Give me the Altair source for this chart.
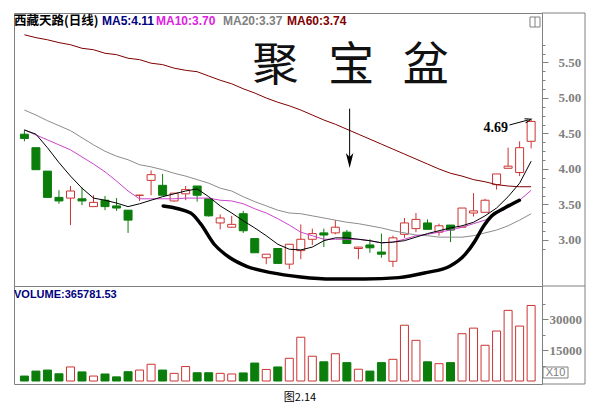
import altair as alt
import pandas as pd

# ---------------- data ----------------
idx = list(range(1, 46))
open_ = [4.49, 4.30, 3.97, 3.60, 3.59, 3.58, 3.47, 3.56, 3.48, 3.42,
         3.63, 3.84, 3.77, 3.55, 3.65, 3.76, 3.58, 3.24, 3.18, 3.37,
         3.02, 2.75, 2.88, 2.66, 2.85, 3.01, 3.10, 3.10, 3.11, 2.88,
         2.93, 2.83, 2.70, 3.08, 3.16, 3.24, 3.11, 3.21, 3.18, 3.38,
         3.39, 3.78, 4.01, 3.95, 4.39]
close = [4.43, 3.99, 3.60, 3.55, 3.69, 3.55, 3.53, 3.47, 3.45, 3.28,
         3.63, 3.92, 3.63, 3.66, 3.71, 3.63, 3.34, 3.31, 3.22, 3.13,
         2.82, 2.80, 2.67, 2.94, 3.01, 3.09, 3.07, 3.18, 2.95, 2.90,
         2.89, 2.80, 3.03, 3.24, 3.29, 3.15, 3.20, 3.14, 3.45, 3.41,
         3.56, 3.93, 4.04, 4.30, 4.67]
high = [4.55, 4.30, 3.97, 3.70, 3.76, 3.74, 3.63, 3.62, 3.59, 3.42,
        3.63, 3.98, 3.93, 3.66, 3.76, 3.76, 3.58, 3.36, 3.34, 3.41,
        3.02, 2.80, 2.88, 2.94, 3.22, 3.16, 3.16, 3.28, 3.14, 2.90,
        3.01, 3.09, 3.06, 3.31, 3.38, 3.29, 3.23, 3.21, 3.45, 3.66,
        3.58, 3.93, 4.30, 4.39, 4.69]
low = [4.39, 3.99, 3.60, 3.51, 3.21, 3.49, 3.47, 3.42, 3.41, 3.10,
       3.55, 3.63, 3.63, 3.54, 3.56, 3.54, 3.33, 3.15, 3.17, 3.10,
       2.82, 2.66, 2.67, 2.59, 2.73, 2.93, 2.90, 3.08, 2.95, 2.73,
       2.82, 2.75, 2.62, 3.03, 3.11, 3.15, 3.06, 2.97, 3.18, 3.33,
       3.39, 3.71, 4.01, 3.90, 4.29]
volume = [2400, 4800, 5300, 3500, 6800, 4400, 2400, 3400, 2000, 4500,
          5300, 8100, 5300, 3700, 7000, 4000, 4000, 3700, 3400, 3900,
          8700, 5600, 6800, 11000, 21200, 12000, 9300, 13200, 8900, 5700,
          4800, 8900, 10500, 27000, 19700, 9300, 8400, 8900, 22900, 25600,
          17300, 24200, 34200, 26600, 36578]
ma5 = [4.55, 4.49, 4.30, 4.09, 3.90, 3.73, 3.59, 3.56, 3.52, 3.47,
       3.51, 3.56, 3.61, 3.65, 3.69, 3.72, 3.61, 3.48, 3.38, 3.27,
       3.17, 3.06, 2.94, 2.87, 2.86, 2.90, 2.99, 3.03, 3.03, 3.01,
       2.99, 2.96, 2.97, 2.99, 3.04, 3.09, 3.13, 3.17, 3.20, 3.25,
       3.34, 3.45, 3.61, 3.80, 4.11]
ma10 = [4.55, 4.48, 4.41, 4.34, 4.27, 4.17, 4.07, 3.96, 3.83, 3.69,
        3.58, 3.58, 3.58, 3.58, 3.59, 3.59, 3.59, 3.56, 3.55, 3.51,
        3.44, 3.38, 3.30, 3.21, 3.11, 3.06, 3.01, 3.01, 3.01, 3.01,
        2.99, 2.96, 2.97, 3.01, 3.06, 3.08, 3.11, 3.14, 3.18, 3.23,
        3.28, 3.37, 3.46, 3.56, 3.70]
ma20 = [4.83, 4.76, 4.68, 4.61, 4.54, 4.44, 4.34, 4.25, 4.18, 4.13,
        4.06, 4.03, 3.99, 3.94, 3.90, 3.85, 3.80, 3.73, 3.69, 3.61,
        3.54, 3.48, 3.42, 3.38, 3.37, 3.34, 3.31, 3.28, 3.25, 3.23,
        3.20, 3.17, 3.13, 3.10, 3.07, 3.06, 3.04, 3.04, 3.04, 3.06,
        3.10, 3.14, 3.20, 3.28, 3.37]
ma60 = [5.89, 5.85, 5.82, 5.78, 5.75, 5.70, 5.68, 5.63, 5.61, 5.56,
        5.54, 5.49, 5.47, 5.42, 5.39, 5.37, 5.31, 5.25, 5.20, 5.13,
        5.07, 5.00, 4.94, 4.89, 4.83, 4.76, 4.69, 4.63, 4.56, 4.49,
        4.42, 4.35, 4.28, 4.21, 4.14, 4.07, 4.00, 3.94, 3.90, 3.85,
        3.82, 3.78, 3.76, 3.75, 3.75]
ma_names = ["MA60", "MA20", "MA10", "MA5"]
ma_colors = ["#800000", "#8c8c8c", "#cc44cc", "#000000"]

# hand-drawn "bowl" annotation (candle index, price)
bowl_i = [13.05, 15.44, 16.29, 17.48, 18.85, 20.29, 22.42, 24.98, 27.71, 30.52,
          33.50, 35.88, 37.93, 39.29, 40.14, 40.74, 41.59, 42.70, 43.98]
bowl_p = [3.48, 3.38, 3.23, 2.94, 2.75, 2.63, 2.54, 2.48, 2.45, 2.45,
          2.47, 2.54, 2.63, 2.80, 2.99, 3.16, 3.34, 3.45, 3.56]

price_labels = [3.0, 3.5, 4.0, 4.5, 5.0, 5.5]
price_ticks = [2.875, 3.0, 3.125, 3.25, 3.375, 3.5, 3.625, 3.75, 3.875, 4.0,
               4.125, 4.25, 4.375, 4.5, 4.625, 4.75, 4.875, 5.0, 5.125, 5.25,
               5.375, 5.5, 5.625, 5.75]
vol_ticks = [7500, 15000, 22500, 30000, 37500]

title_text = "西藏天路(日线)"
legend_texts = ["MA5:4.11", "MA10:3.70", "MA20:3.37", "MA60:3.74"]
legend_colors = ["#000080", "#e020e0", "#808080", "#800000"]
volume_text = "VOLUME:365781.53"
big_chars = ["聚", "宝", "盆"]
big_char_i = [22.81, 29.37, 35.84]
peak_text = "4.69"
caption = "图2.14"

# ---------------- styling / layout ----------------
RED = "#cc3333"
GREEN = "#0b7d0b"
GRAY = "#808080"
W, HP, HV = 528, 273, 98

candles = pd.DataFrame({"i": idx, "open": open_, "close": close,
                        "high": high, "low": low, "vol": volume})
candles["dir"] = ["up" if c >= o else "down" for o, c in zip(open_, close)]

xscale = alt.Scale(domain=[0.53, 45.51], nice=False, zero=False)
pscale = alt.Scale(domain=[2.352, 6.197], nice=False, zero=False)
vscale = alt.Scale(domain=[-1450, 46000], nice=False, zero=False)
stroke_enc = alt.Stroke("dir:N", scale=alt.Scale(domain=["up", "down"], range=[RED, GREEN]), legend=None)
fill_enc = alt.Fill("dir:N", scale=alt.Scale(domain=["up", "down"], range=["#ffffff", GREEN]), legend=None)
X = alt.X("i:Q", scale=xscale, axis=None)

major_p = "datum.value * 2 == round(datum.value * 2)"
price_axis = alt.Axis(
    orient="right", values=price_ticks, title=None, grid=False, domain=False,
    labelExpr=f"({major_p}) ? format(datum.value, '.2f') : ''",
    tickSize={"condition": {"test": major_p, "value": 6}, "value": 3},
    tickColor=GRAY, labelColor=GRAY, labelFont="Liberation Serif",
    labelFontWeight="bold", labelFontSize=13, labelPadding=10, labelOverlap=False,
)
major_v = "datum.value % 15000 == 0"
vol_axis = alt.Axis(
    orient="right", values=vol_ticks, title=None, grid=False, domain=False,
    labelExpr=f"({major_v}) ? format(datum.value, 'd') : ''",
    tickSize={"condition": {"test": major_v, "value": 6}, "value": 3},
    tickColor=GRAY, labelColor=GRAY, labelFont="Liberation Serif",
    labelFontWeight="bold", labelFontSize=13, labelPadding=1, labelOverlap=False,
)


def PY(field):
    return alt.Y(field, scale=pscale, axis=price_axis)


one = pd.DataFrame({"a": [0]})


def txt(text, x, y, **kw):
    return alt.Chart(one).mark_text(text=text, **kw).encode(x=alt.value(x), y=alt.value(y))


def rule(**enc):
    return alt.Chart(one).mark_rule(color=GRAY, strokeWidth=1).encode(**enc)


# ---------------- price panel ----------------
wick = alt.Chart(candles).mark_rule(strokeWidth=1).encode(
    x=X, y=PY("low:Q"), y2="high:Q", stroke=stroke_enc)
body = alt.Chart(candles).mark_bar(size=8, strokeWidth=1).encode(
    x=X, y=PY("open:Q"), y2="close:Q", fill=fill_enc, stroke=stroke_enc)

ma_df = pd.concat([pd.DataFrame({"i": idx, "v": vals, "s": name})
                   for name, vals in zip(ma_names, [ma60, ma20, ma10, ma5])])
ma_lines = alt.Chart(ma_df).mark_line(strokeWidth=1).encode(
    x=X, y=PY("v:Q"),
    color=alt.Color("s:N", scale=alt.Scale(domain=ma_names, range=ma_colors), legend=None))

bowl = alt.Chart(pd.DataFrame({"i": bowl_i, "p": bowl_p})).mark_line(
    strokeWidth=3.5, color="black", interpolate="monotone", strokeCap="round").encode(
    x=X, y=PY("p:Q"))

arrow_df = pd.DataFrame({"i": [29.24], "p1": [4.85], "p2": [4.12]})
arrow = alt.Chart(arrow_df).mark_rule(color="black", strokeWidth=1).encode(
    x=X, y=PY("p1:Q"), y2="p2:Q")
arrow_head = alt.Chart(arrow_df).mark_point(
    shape="M-0.5,-1L0,1L0.5,-1L0,-0.45Z", filled=True, size=225, color="black", opacity=1).encode(
    x=X, y=PY("p2:Q"))

big_df = pd.DataFrame({"i": big_char_i, "p": [5.45] * 3, "t": big_chars})
big_text = alt.Chart(big_df).mark_text(
    font="Noto Sans CJK SC", fontSize=46, color="#111111").encode(
    x=X, y=PY("p:Q"), text="t:N")

peak_df = pd.DataFrame({"i": [41.93], "p": [4.58], "t": [peak_text]})
peak_lbl = alt.Chart(peak_df).mark_text(
    font="Liberation Serif", fontWeight="bold", fontSize=14, color="black").encode(
    x=X, y=PY("p:Q"), text="t:N")
parrow_df = pd.DataFrame({"i1": [43.12], "p1": [4.62], "i2": [44.74], "p2": [4.69]})
peak_arrow = alt.Chart(parrow_df).mark_rule(color="black", strokeWidth=1).encode(
    x=alt.X("i1:Q", scale=xscale, axis=None), x2="i2:Q",
    y=PY("p1:Q"), y2="p2:Q")
peak_head = alt.Chart(parrow_df).mark_point(
    shape="M-1,-0.7L1,0L-1,0.7", filled=False, size=40, color="black", strokeWidth=1,
    angle=345, opacity=1).encode(
    x=alt.X("i2:Q", scale=xscale, axis=None), y=PY("p2:Q"))

title_layers = [txt(title_text, 0, 8, align="left", baseline="middle", font="Noto Sans CJK SC",
                    fontWeight="bold", fontSize=12.5, color="black")]
for t, c, xx in zip(legend_texts, legend_colors, [88, 142, 209, 273]):
    title_layers.append(txt(t, xx, 8, align="left", baseline="middle", font="Liberation Sans",
                            fontWeight="bold", fontSize=12, color=c))

icon = alt.Chart(one).mark_point(
    shape="M-1,-1H1V1H-1Z M0,-1V1", filled=False, size=100, color=GRAY, strokeWidth=1, opacity=1).encode(
    x=alt.value(521), y=alt.value(9))

frame_p = [
    rule(x=alt.value(571), y=alt.value(0), y2=alt.value(HP)),
    rule(x=alt.value(W), x2=alt.value(571), y=alt.value(0)),
    rule(x=alt.value(W), x2=alt.value(571), y=alt.value(HP)),
]

price = alt.layer(
    wick, body, ma_lines, bowl, arrow, arrow_head, big_text,
    peak_lbl, peak_arrow, peak_head, *title_layers, icon, *frame_p
).properties(width=W, height=HP)

# ---------------- volume panel ----------------
vol_bars = alt.Chart(candles).mark_bar(size=8, strokeWidth=1).encode(
    x=X, y=alt.Y("vol:Q", scale=vscale, axis=vol_axis), y2=alt.datum(0),
    fill=fill_enc, stroke=stroke_enc)

vol_label = txt(volume_text, 0, 9, align="left", baseline="middle", font="Liberation Sans",
                fontWeight="bold", fontSize=11, color="#000080")
x10_box = alt.Chart(one).mark_rect(fill="white", stroke=GRAY, strokeWidth=1).encode(
    x=alt.value(529), x2=alt.value(554), y=alt.value(81), y2=alt.value(92))
x10_txt = txt("X10", 541.5, 87, align="center", baseline="middle", font="Liberation Sans",
              fontSize=11, color=GRAY)
cap = txt(caption, 286, 112, align="center", baseline="middle", font="Noto Sans CJK SC",
          fontSize=11, color="black")
frame_v = [
    rule(x=alt.value(571), y=alt.value(0), y2=alt.value(HV)),
    rule(x=alt.value(W), x2=alt.value(571), y=alt.value(HV)),
]

vol = alt.layer(vol_bars, vol_label, x10_box, x10_txt, cap, *frame_v).properties(width=W, height=HV)

chart = alt.vconcat(price, vol, spacing=0, bounds="flush").resolve_scale(
    y="independent"
).configure_view(stroke=GRAY, strokeWidth=1).properties(
    padding={"left": 5, "top": 4, "right": 5, "bottom": 5}, background="white"
)

chart.save("out.html", embed_options={"renderer": "svg", "actions": False})
